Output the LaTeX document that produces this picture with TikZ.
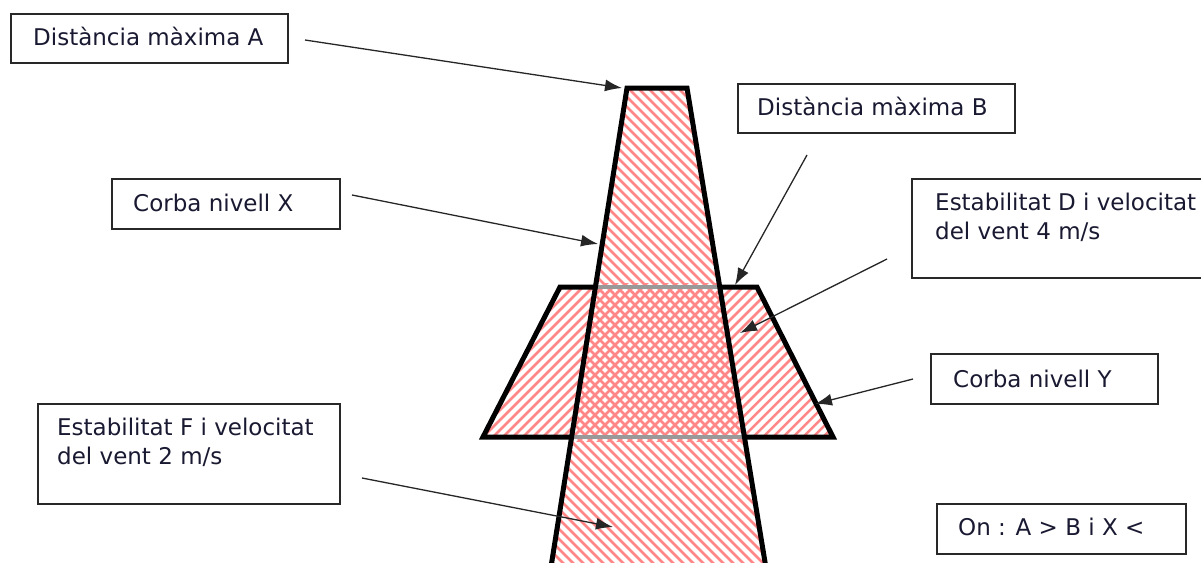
\documentclass[tikz,border=0pt]{standalone}
\usepackage{fontspec}
\setmainfont{DejaVu Sans}
\usetikzlibrary{arrows.meta}
\definecolor{hatchc}{RGB}{255,135,135}
\definecolor{txt}{RGB}{25,25,50}
\definecolor{boxc}{RGB}{40,40,40}
\begin{document}
\begin{tikzpicture}[x=1pt,y=-1pt,
  box/.style={draw=boxc, line width=1.5pt, fill=white, inner sep=0pt, anchor=north west},
  lbl/.style={anchor=base west, inner sep=0pt, text=txt, font=\fontsize{23}{28.5}\selectfont, align=left},
  arr/.style={draw=black!85, line width=1.3pt, -{Latex[length=17pt,width=12pt]}},
  hatch/.style={draw=hatchc, line width=2.5pt},
  edgeline/.style={draw=black, line width=5pt, line join=miter}]
\useasboundingbox (0,0) rectangle (1201,562);
% hatch of middle trapezoid
\begin{scope}
  \clip (560,287) -- (757,287) -- (833,437) -- (483,437) -- cycle;
  \foreach \c in {840,850,...,1290} \draw[hatch] (\c-250,250) -- (\c-460,460);
\end{scope}
% hatch of tall trapezoid
\begin{scope}
  \clip (550.5,570) -- (627,88) -- (687,88) -- (766.3,570) -- cycle;
  \foreach \c in {-40,-30,...,620} \draw[hatch] (\c+60,60) -- (\c+580,580);
\end{scope}
% border of middle trapezoid
\draw[edgeline] (560,287) -- (757,287) -- (833,437) -- (483,437) -- cycle;
% inner edges faded
\begin{scope}
  \clip (550.5,570) -- (627,88) -- (687,88) -- (766.3,570) -- cycle;
  \fill[white] (540,283) rectangle (780,291);
  \fill[white] (540,433) rectangle (780,441);
  \begin{scope}
    \clip (540,283) rectangle (780,291);
    \foreach \c in {840,850,...,1290} \draw[hatch] (\c-250,250) -- (\c-460,460);
    \foreach \c in {-40,-30,...,620} \draw[hatch] (\c+60,60) -- (\c+580,580);
  \end{scope}
  \begin{scope}
    \clip (540,433) rectangle (780,441);
    \foreach \c in {840,850,...,1290} \draw[hatch] (\c-250,250) -- (\c-460,460);
    \foreach \c in {-40,-30,...,620} \draw[hatch] (\c+60,60) -- (\c+580,580);
  \end{scope}
  \draw[black!40, line width=4.5pt] (540,287) -- (780,287);
  \draw[black!40, line width=4.5pt] (540,437) -- (780,437);
\end{scope}
% border of tall trapezoid
\draw[edgeline] (550.5,570) -- (627,88) -- (687,88) -- (766.3,570);
% named points on the shapes
\coordinate (tipA) at (622,88);
\coordinate (tipX) at (598,244);
\coordinate (tipB) at (735,285);
\coordinate (tipD) at (740,333);
\coordinate (tipY) at (815,404);
\coordinate (tipF) at (613,527);
% boxes
\node[box, minimum width=277pt, minimum height=49pt] (boxA) at (10,13) {};
\node[box, minimum width=277pt, minimum height=49pt] (boxB) at (737,83) {};
\node[box, minimum width=228pt, minimum height=50pt] (boxX) at (111,178) {};
\node[box, minimum width=310pt, minimum height=99pt] (boxD) at (911,178) {};
\node[box, minimum width=227pt, minimum height=50pt] (boxY) at (930,353) {};
\node[box, minimum width=302pt, minimum height=100pt] (boxF) at (37,403) {};
\node[box, minimum width=249pt, minimum height=50pt] (boxOn) at (936,503) {};
% labels
\node[lbl] (tA) at (33,45) {Distància màxima A};
\node[lbl] (tB) at (757,115) {Distància màxima B};
\node[lbl] (tX) at (133,211) {Corba nivell X};
\node[lbl] (tD) at (935,239) {Estabilitat D i velocitat\\del vent 4 m/s};
\node[lbl] (tY) at (953,387) {Corba nivell Y};
\node[lbl] (tF) at (57,464) {Estabilitat F i velocitat\\del vent 2 m/s};
\node[lbl] (tOn) at (958,535) {On : A > B i X <};
% arrow starts
\coordinate (sA) at (305,40);
\coordinate (sX) at (352,195);
\coordinate (sB) at (807,155);
\coordinate (sD) at (887,259);
\coordinate (sY) at (913,379);
\coordinate (sF) at (362,478);
\draw[arr] (sA) -- (tipA);
\draw[arr] (sX) -- (tipX);
\draw[arr] (sB) -- (tipB);
\draw[arr] (sD) -- (tipD);
\draw[arr] (sY) -- (tipY);
\draw[arr] (sF) -- (tipF);
\end{tikzpicture}
\end{document}
